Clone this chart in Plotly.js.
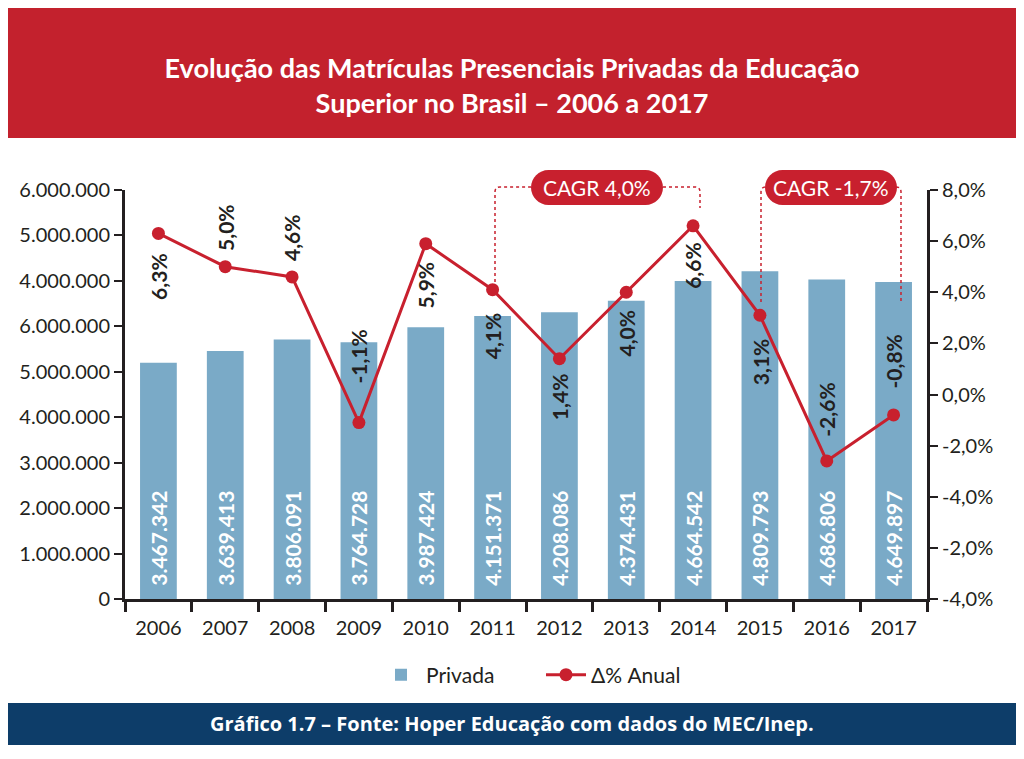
<!DOCTYPE html>
<html>
<head>
<meta charset="utf-8">
<script src="https://cdn.plot.ly/plotly-3.0.1.min.js"></script>
<style>
html,body{margin:0;padding:0;background:#fff;}
#chart{width:1024px;height:759px;}
</style>
</head>
<body>
<div id="chart"></div>
<script>
// ---- data ----
const years = ['2006','2007','2008','2009','2010','2011','2012','2013','2014','2015','2016','2017'];
const privada = [3467342, 3639413, 3806091, 3764728, 3987424, 4151371, 4208086, 4374431, 4664542, 4809793, 4686806, 4649897];
const deltaAnual = [6.3, 5.0, 4.6, -1.1, 5.9, 4.1, 1.4, 4.0, 6.6, 3.1, -2.6, -0.8];
const leftTickText = ['0','1.000.000','2.000.000','3.000.000','4.000.000','5.000.000','6.000.000','4.000.000','5.000.000','6.000.000'];
const rightTickText = ['-4,0%','-2,0%','-4,0%','-2,0%','0,0%','2,0%','4,0%','6,0%','8,0%'];
const cagrLabels = ['CAGR 4,0%', 'CAGR -1,7%'];

// ---- style / layout constants ----
const RED = '#C8202E';
const BANNER_RED = '#C3212D';
const NAVY = '#0D3D69';
const BAR = '#7AAAC7';
const INK = '#231F20';
const FONT = 'Lato, "Open Sans", sans-serif';
const L = 125, R = 97, T = 190, B = 160, W = 1024, H = 759;
const PW = W - L - R, PH = H - T - B;
const LEFT_MAX = 6000000;
// vertical offsets (px, positive = up) of the percentage labels from their points
const pctShift = [-43, 39, 39, 66, -42, -47, -38, -41, -40, -47, 51, 53];

function fmtInt(v){ return String(v).replace(/\B(?=(\d{3})+(?!\d))/g, '.'); }
function fmtPct(v){ return v.toFixed(1).replace('.', ',') + '%'; }
function px(x){ return +((x - L) / PW).toFixed(5); }
function py(y){ return +((T + PH - y) / PH).toFixed(5); }
function P(x,y){ return px(x) + ',' + py(y); }
function pill(x0, x1, yT, yB){
  const r = (yB - yT) / 2, k = 0.5523 * r;
  return 'M' + P(x0 + r, yT) + ' L' + P(x1 - r, yT) +
    ' C' + P(x1 - r + k, yT) + ' ' + P(x1, yT + r - k) + ' ' + P(x1, yT + r) +
    ' C' + P(x1, yB - r + k) + ' ' + P(x1 - r + k, yB) + ' ' + P(x1 - r, yB) +
    ' L' + P(x0 + r, yB) +
    ' C' + P(x0 + r - k, yB) + ' ' + P(x0, yB - r + k) + ' ' + P(x0, yT + r) +
    ' C' + P(x0, yT + r - k) + ' ' + P(x0 + r - k, yT) + ' ' + P(x0 + r, yT) + ' Z';
}

const leftTickVals = leftTickText.map((_, i) => i * LEFT_MAX / (leftTickText.length - 1));
const rightTickVals = rightTickText.map((_, i) => -8 + i * 2);

const traces = [
  {
    type: 'bar', name: 'Privada', x: years, y: privada,
    text: privada.map(fmtInt),
    textposition: 'inside', insidetextanchor: 'start', textangle: -90,
    texttemplate: '\u00a0\u00a0%{text}',
    constraintext: 'none',
    insidetextfont: {family: FONT, size: 21, color: '#ffffff', weight: 'bold'},
    marker: {color: BAR}, width: 0.55, hoverinfo: 'skip'
  },
  {
    type: 'scatter', mode: 'lines+markers', name: 'Δ% Anual', x: years, y: deltaAnual,
    yaxis: 'y2', line: {color: RED, width: 3}, marker: {color: RED, size: 13},
    cliponaxis: false, hoverinfo: 'skip'
  }
];

const annotations = deltaAnual.map((v, i) => ({
  x: i, y: v, xref: 'x', yref: 'y2', text: fmtPct(v), showarrow: false,
  textangle: -90, xanchor: 'center', yanchor: 'middle', yshift: pctShift[i],
  font: {family: FONT, size: 21, color: INK, weight: 'bold'}
}));

const boxes = [
  {x0: 531, x1: 663, label: cagrLabels[0]},
  {x0: 765, x1: 897, label: cagrLabels[1]}
];
boxes.forEach(b => {
  annotations.push({
    xref: 'paper', yref: 'paper', x: px((b.x0 + b.x1) / 2), y: py(187.5),
    text: b.label, showarrow: false, xanchor: 'center', yanchor: 'middle',
    font: {family: FONT, size: 21, color: '#ffffff'}
  });
});

annotations.push({
  xref: 'paper', yref: 'paper', x: px(512), y: py(724), xanchor: 'center', yanchor: 'middle',
  text: 'Gráfico 1.7 – Fonte: Hoper Educação com dados do MEC/Inep.', showarrow: false,
  font: {family: '"Open Sans", Lato, sans-serif', size: 20, color: '#ffffff', weight: 'bold'}
});

const dotted = {color: RED, width: 1.5, dash: 'dot'};
const shapes = [
  {type: 'rect', xref: 'paper', yref: 'paper', x0: px(8), x1: px(1016), y0: py(8), y1: py(138),
   fillcolor: BANNER_RED, line: {width: 0}, layer: 'below'},
  {type: 'rect', xref: 'paper', yref: 'paper', x0: px(8), x1: px(1016), y0: py(703), y1: py(745),
   fillcolor: NAVY, line: {width: 0}, layer: 'below'},
  {type: 'path', xref: 'paper', yref: 'paper',
   path: 'M' + P(495, 288) + ' L' + P(495, 192) + ' Q' + P(495, 187) + ' ' + P(500, 187) + ' L' + P(531, 187),
   line: dotted},
  {type: 'path', xref: 'paper', yref: 'paper',
   path: 'M' + P(663, 187) + ' L' + P(695, 187) + ' Q' + P(700, 187) + ' ' + P(700, 192) + ' L' + P(700, 208),
   line: dotted},
  {type: 'path', xref: 'paper', yref: 'paper',
   path: 'M' + P(761, 302) + ' L' + P(761, 192) + ' Q' + P(761, 187) + ' ' + P(766, 187),
   line: dotted},
  {type: 'path', xref: 'paper', yref: 'paper',
   path: 'M' + P(896, 187) + ' Q' + P(901, 187) + ' ' + P(901, 192) + ' L' + P(901, 302),
   line: dotted},
  {type: 'path', xref: 'paper', yref: 'paper', path: pill(boxes[0].x0, boxes[0].x1, 170, 205),
   fillcolor: RED, line: {width: 0}},
  {type: 'path', xref: 'paper', yref: 'paper', path: pill(boxes[1].x0, boxes[1].x1, 170, 205),
   fillcolor: RED, line: {width: 0}}
];

const axisCommon = {
  showgrid: false, zeroline: false, showline: true, linecolor: INK, linewidth: 3,
  ticks: 'outside', ticklen: 8, tickwidth: 2, tickcolor: INK,
  tickfont: {family: FONT, size: 20, color: INK}, fixedrange: true
};

const layout = {
  width: W, height: H,
  margin: {l: L, r: R, t: T, b: B, pad: 0},
  paper_bgcolor: '#ffffff', plot_bgcolor: '#ffffff',
  title: {
    text: 'Evolução das Matrículas Presenciais Privadas da Educação<br>Superior no Brasil – 2006 a 2017',
    font: {family: FONT, size: 27, color: '#ffffff', weight: 'bold'},
    x: 0.5, xref: 'container', y: 1 - 77.5 / H, yref: 'container', yanchor: 'middle', xanchor: 'center'
  },
  xaxis: Object.assign({}, axisCommon, {
    type: 'category', range: [-0.5, 11.5], tickson: 'boundaries', ticklen: 10, tickwidth: 3,
    ticklabelstandoff: 9
  }),
  yaxis: Object.assign({}, axisCommon, {
    range: [0, LEFT_MAX], tickmode: 'array', tickvals: leftTickVals, ticktext: leftTickText
  }),
  yaxis2: Object.assign({}, axisCommon, {
    overlaying: 'y', side: 'right', range: [-8, 8], tickmode: 'array',
    tickvals: rightTickVals, ticktext: rightTickText
  }),
  showlegend: true,
  legend: {
    orientation: 'h', x: px(541), xanchor: 'center', y: py(675), yanchor: 'middle',
    font: {family: FONT, size: 21, color: INK}, itemwidth: 40, entrywidth: 110,
    bgcolor: 'rgba(0,0,0,0)'
  },
  annotations: annotations,
  shapes: shapes
};

Plotly.newPlot('chart', traces, layout, {displayModeBar: false, staticPlot: true});
</script>
</body>
</html>
